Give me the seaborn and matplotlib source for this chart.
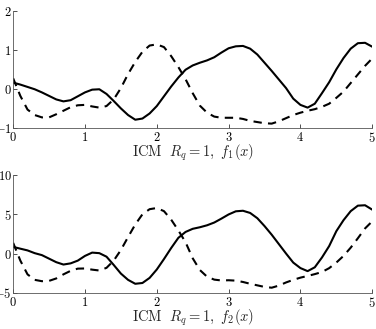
import numpy as np
import pandas as pd
import matplotlib
matplotlib.use("Agg")
from matplotlib import pyplot as plt
import seaborn as sns

# values, x = 0, 0.1, ..., 5
x = [round(0.1 * i, 1) for i in range(51)]

f1_solid = [0.17, 0.12, 0.06, 0.00, -0.08, -0.17, -0.26, -0.31, -0.28, -0.18,
            -0.08, -0.01, 0.00, -0.12, -0.30, -0.49, -0.66, -0.78, -0.75, -0.62,
            -0.43, -0.18, 0.07, 0.30, 0.50, 0.61, 0.68, 0.74, 0.82, 0.94,
            1.05, 1.10, 1.11, 1.04, 0.89, 0.68, 0.47, 0.25, 0.03, -0.24,
            -0.40, -0.47, -0.37, -0.10, 0.18, 0.51, 0.80, 1.04, 1.18, 1.19,
            1.09]
f1_dashed = [0.28, -0.17, -0.52, -0.66, -0.72, -0.72, -0.64, -0.55, -0.46, -0.41,
             -0.40, -0.44, -0.47, -0.43, -0.26, 0.03, 0.39, 0.70, 0.96, 1.12,
             1.15, 1.08, 0.85, 0.57, 0.26, -0.10, -0.42, -0.60, -0.70, -0.73,
             -0.73, -0.73, -0.76, -0.81, -0.84, -0.87, -0.88, -0.82, -0.74, -0.66,
             -0.60, -0.55, -0.51, -0.45, -0.37, -0.22, -0.06, 0.16, 0.38, 0.60,
             0.79]
f2_solid = [0.85, 0.62, 0.40, 0.05, -0.20, -0.65, -1.10, -1.40, -1.25, -0.90,
            -0.30, 0.12, 0.05, -0.40, -1.45, -2.55, -3.35, -3.85, -3.75, -3.10,
            -2.03, -0.70, 0.70, 2.00, 2.75, 3.15, 3.35, 3.60, 3.95, 4.45,
            4.98, 5.38, 5.45, 5.17, 4.50, 3.50, 2.40, 1.20, 0.00, -1.15,
            -1.85, -2.24, -1.75, -0.50, 0.95, 2.85, 4.25, 5.40, 6.10, 6.15,
            5.59]
f2_dashed = [1.36, -0.90, -2.65, -3.35, -3.52, -3.48, -3.17, -2.65, -2.20, -1.92,
             -1.90, -2.05, -2.16, -1.82, -0.90, 0.45, 2.10, 3.70, 5.00, 5.65,
             5.80, 5.40, 4.32, 2.95, 1.45, -0.60, -2.10, -2.95, -3.32, -3.43,
             -3.40, -3.45, -3.62, -3.85, -4.05, -4.25, -4.35, -4.08, -3.68, -3.35,
             -3.07, -2.85, -2.62, -2.35, -1.86, -1.15, -0.30, 0.75, 1.95, 3.20,
             4.11]

top_yticks = [-1, 0, 1, 2]
bottom_yticks = [-5, 0, 5, 10]
xticks = [0, 1, 2, 3, 4, 5]

sns.set_style("ticks")
plt.rcParams["mathtext.fontset"] = "cm"
plt.rcParams["font.family"] = ["DejaVu Serif"]

fig = plt.figure(figsize=(3.76, 3.29), dpi=100)
ax1 = fig.add_axes([0.035, 0.610, 0.955, 0.356])
ax2 = fig.add_axes([0.035, 0.110, 0.955, 0.358])

panels = [
    (ax1, f1_solid, f1_dashed, top_yticks, r"$\mathrm{ICM}\ \ R_q = 1,\ f_1(x)$"),
    (ax2, f2_solid, f2_dashed, bottom_yticks, r"$\mathrm{ICM}\ \ R_q = 1,\ f_2(x)$"),
]

for ax, solid, dashed, yt, label in panels:
    df = pd.DataFrame({
        "x": x + x,
        "y": solid + dashed,
        "series": ["solid"] * len(x) + ["dashed"] * len(x),
    })
    sns.lineplot(data=df, x="x", y="y", style="series", color="black",
                 dashes={"solid": "", "dashed": (4, 3)}, linewidth=1.5,
                 legend=False, ax=ax)
    ax.set_xlim(0, 5)
    ax.set_ylim(yt[0], yt[-1])
    ax.set_xticks(xticks)
    ax.set_xticklabels([f"${t}$" for t in xticks])
    ax.set_yticks(yt)
    ax.set_yticklabels([f"${t}$" for t in yt])
    ax.tick_params(direction="in", length=3, width=0.6, labelsize=9,
                   colors="#333333", labelcolor="black")
    ax.tick_params(axis="x", pad=2)
    ax.tick_params(axis="y", pad=1)
    for s in ["top", "right"]:
        ax.spines[s].set_visible(False)
    for s in ["left", "bottom"]:
        ax.spines[s].set_linewidth(0.6)
        ax.spines[s].set_color("#555555")
    ax.set_xlabel(label, fontsize=10.5, labelpad=-1.5)
    ax.set_ylabel("")

fig.savefig("out.png", dpi=100)
